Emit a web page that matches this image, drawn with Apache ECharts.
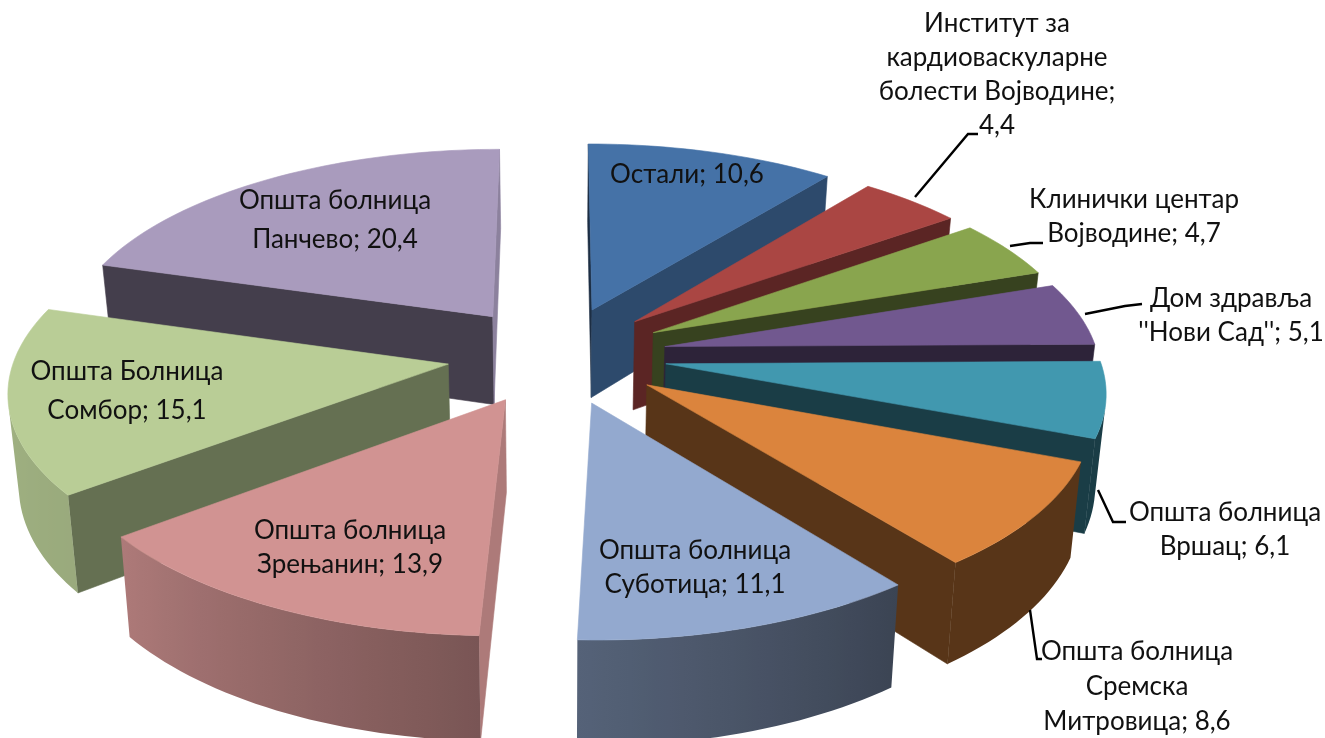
<!DOCTYPE html>
<html><head><meta charset="utf-8">
<style>html,body{margin:0;padding:0;background:#fff;overflow:hidden}#c{width:1325px;height:738px}</style>
<script src="https://cdn.jsdelivr.net/npm/echarts@6/dist/echarts.min.js"></script>
</head><body><div id="c"></div>
<script>
const names = ['Остали;','Институт за\nкардиоваскуларне\nболести Војводине;\n','Клинички центар\nВојводине;','Дом здравља\n\'\'Нови Сад\'\';','Општа болница\nВршац;','Општа болница\nСремска\nМитровица;','Општа болница\nСуботица;','Општа болница\nЗрењанин;','Општа Болница\nСомбор;','Општа болница\nПанчево;'];
const values = [10.6,4.4,4.7,5.1,6.1,8.6,11.1,13.9,15.1,20.4];
const colors = ['#4572A7','#AA4643','#89A54E','#71588F','#4198AF','#DB843D','#93A9CF','#D19392','#B9CD96','#A99BBD'];
const labelAnchors = [[687,175],[997,24],[1134,200],[1231,299],[1225,513],[1137,652],[695,551],[350,531],[127,372],[335,201]];
const labelGaps = [34,34,34,34,34,35,34,34,39,39];
const leaders = [[[915,197],[968,134],[978,134]],[[1010,246],[1030,243],[1043,243]],[[1085,314],[1125,306],[1142,304]],[[1098,490],[1113,522],[1126,522]],[[1030,610],[1037,659],[1042,659]]];

const total = values.reduce((a,b)=>a+b,0);
const CX=557, CY=355, R=440, RX=433, E=110, T=0.4455, P=0.12, D=90, TAPER=0.02, RAD=Math.PI/180;
const FONT='26px Lato, "Noto Sans", sans-serif';
const spans=[]; let acc=0;
values.forEach(v=>{const a=acc/total*360; acc+=v; spans.push([a,acc/total*360]);});
const rank=values.map((_,i)=>i).sort((a,b)=>-Math.cos((spans[a][0]+spans[a][1])/2*RAD)+Math.cos((spans[b][0]+spans[b][1])/2*RAD));

function proj(X,Y,d){const f=1/(1-P*Y/R);return [CX+X*f*(1-TAPER*d),CY+T*Y*f+D*f*d];}
function shade(hex,k){const n=parseInt(hex.slice(1),16);return 'rgb('+[(n>>16)&255,(n>>8)&255,n&255].map(c=>Math.round(c*k)).join(',')+')';}
function lerpTable(tb,x){if(x<=tb[0][0])return tb[0][1];for(let i=1;i<tb.length;i++){if(x<=tb[i][0]){const a=tb[i-1],b=tb[i];return a[1]+(b[1]-a[1])*(x-a[0])/(b[0]-a[0]);}}return tb[tb.length-1][1];}
const outerLight=[[142,.4],[182,.58],[232,.83],[286,.9]];
const faceLight=[[92,.83],[128,.65],[142,.55],[161,.4]];
function area(p){let s=0;for(let i=0;i<p.length;i++){const a=p[i],b=p[(i+1)%p.length];s+=a[0]*b[1]-b[0]*a[1];}return s;}

function renderItem(params,api){
  const i=params.dataIndex, v=api.value(0);
  const a0=spans[i][0], a1=a0+v/total*360, m=(a0+a1)/2;
  const ox=E*Math.sin(m*RAD), oy=-E*Math.cos(m*RAD);
  const z=rank.indexOf(i)*10, kids=[];
  const pt=(a,d)=>proj(ox+RX*Math.sin(a*RAD),oy-R*Math.cos(a*RAD),d);
  const apex=d=>proj(ox,oy,d);
  const poly=(pts,fill,zz)=>kids.push({type:'polygon',z2:zz,silent:true,shape:{points:pts},style:{fill,stroke:fill,lineWidth:0.6}});
  const start=[apex(0),pt(a0,0),pt(a0,1),apex(1)];
  const end=[pt(a1,0),apex(0),apex(1),pt(a1,1)];
  if(area(start)<0)poly(start,shade(colors[i],lerpTable(faceLight,a0-90+(a0<90?360:0))),z+1);
  if(area(end)<0)poly(end,shade(colors[i],lerpTable(faceLight,a1+90>360?a1-270:a1+90)),z+1);
  const n=Math.ceil((a1-a0)/1.5), arc=[];
  for(let k=0;k<=n;k++)arc.push(a0+(a1-a0)*k/n);
  const vis=[];
  for(let k=0;k<n;k++){
    const q=[pt(arc[k],0),pt(arc[k+1],0),pt(arc[k+1],1),pt(arc[k],1)];
    if(area(q)<0){if(!vis.length)vis.push(arc[k]);vis.push(arc[k+1]);}
  }
  if(vis.length>1){
    const topEdge=vis.map(a=>pt(a,0)), botEdge=vis.map(a=>pt(a,1)).reverse();
    const xs=topEdge.map(p=>p[0]), lo=Math.min(...xs), hi=Math.max(...xs);
    const stops=vis.map((a,k)=>({offset:(xs[k]-lo)/Math.max(hi-lo,1),color:shade(colors[i],lerpTable(outerLight,a))})).sort((p,q)=>p.offset-q.offset);
    const grad={type:'linear',x:lo,y:0,x2:hi,y2:0,global:true,colorStops:stops};
    kids.push({type:'polygon',z2:z+2,silent:true,shape:{points:topEdge.concat(botEdge)},style:{fill:grad}});
  }
  poly([apex(0)].concat(arc.map(a=>pt(a,0))),colors[i],z+3);
  const lines=(names[i]+(names[i].endsWith('\n')?'':' ')+String(v).replace('.',',')).split('\n');
  lines.forEach((t,j)=>kids.push({type:'text',z2:1000,silent:true,
    style:{text:t,x:labelAnchors[i][0],y:labelAnchors[i][1]+j*labelGaps[i],align:'center',verticalAlign:'middle',fill:'#111',font:FONT}}));
  return {type:'group',children:kids};
}
const chart=echarts.init(document.getElementById('c'),null,{renderer:'canvas'});
chart.setOption({animation:false,backgroundColor:'#fff',
  series:[{type:'custom',coordinateSystem:'none',renderItem,data:values.map(v=>[v]),clip:false,silent:true},
  {type:'custom',coordinateSystem:'none',silent:true,data:leaders.map((_,i)=>[i]),z:5,
   renderItem:(p)=>({type:'polyline',silent:true,shape:{points:leaders[p.dataIndex]},style:{stroke:'#000',lineWidth:2.4,fill:null}})}]});
</script></body></html>
